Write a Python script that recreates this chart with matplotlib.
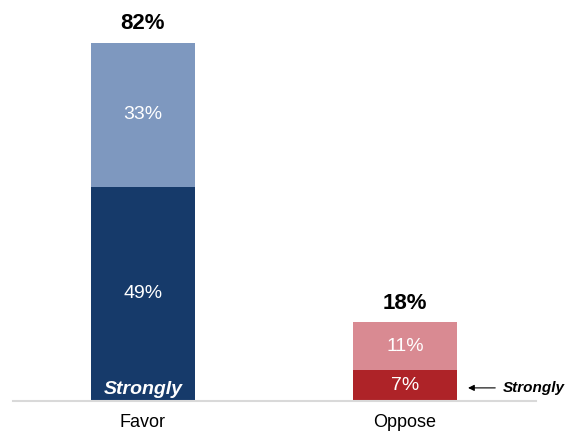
import matplotlib
matplotlib.use("Agg")
import matplotlib.pyplot as plt

categories = ["Favor", "Oppose"]
strongly = [49, 7]
somewhat = [33, 11]
totals = [82, 18]
strong_colors = ["#163a6a", "#ae2328"]
light_colors = ["#7e98bf", "#d98a92"]

plt.rcParams['font.family'] = ['Liberation Sans', 'DejaVu Sans']

fig = plt.figure(figsize=(5.66, 4.32), dpi=100)
W, H = 566, 432
ax = fig.add_axes([13 / W, 31 / H, 523 / W, 393.3 / H])

x = list(range(len(categories)))
width = 0.40
ax.bar(x, strongly, width=width, color=strong_colors, zorder=2)
ax.bar(x, somewhat, width=width, bottom=strongly, color=light_colors, zorder=2)

for i in x:
    ax.text(i, strongly[i] / 2, f"{strongly[i]}%",
            ha="center", va="center", color="white", fontsize=14)
    ax.text(i, strongly[i] + somewhat[i] / 2, f"{somewhat[i]}%",
            ha="center", va="center", color="white", fontsize=14)
    ax.annotate(f"{totals[i]}%", (i, totals[i]), xytext=(0, 13.5),
                textcoords="offset points", ha="center", va="center",
                fontsize=16, fontweight="bold", color="black")

# "Strongly" inside Favor bar
ax.text(0, 2.6, "Strongly", ha="center", va="center", color="white",
        fontsize=14, fontweight="bold", fontstyle="italic")

# Arrow pointing to Oppose strongly segment
ax.annotate("", xy=(1.23, 3.0), xytext=(1.355, 3.0),
            arrowprops=dict(arrowstyle="-|>", color="black", lw=0.8,
                            mutation_scale=9))
ax.text(1.373, 3.0, "Strongly", ha="left", va="center", color="black",
        fontsize=11, fontweight="bold", fontstyle="italic")

ax.set_xlim(-0.496, 1.5)
ax.set_ylim(0, 90)
ax.set_xticks(x)
ax.set_xticklabels(categories, fontsize=13)
ax.tick_params(axis="x", length=0, pad=9.5)
ax.set_yticks([])
for s in ["top", "right", "left"]:
    ax.spines[s].set_visible(False)
ax.spines["bottom"].set_color("#d9d9d9")
ax.spines["bottom"].set_linewidth(1.5)
ax.spines["bottom"].set_zorder(3)

fig.savefig("out.png", dpi=100)
